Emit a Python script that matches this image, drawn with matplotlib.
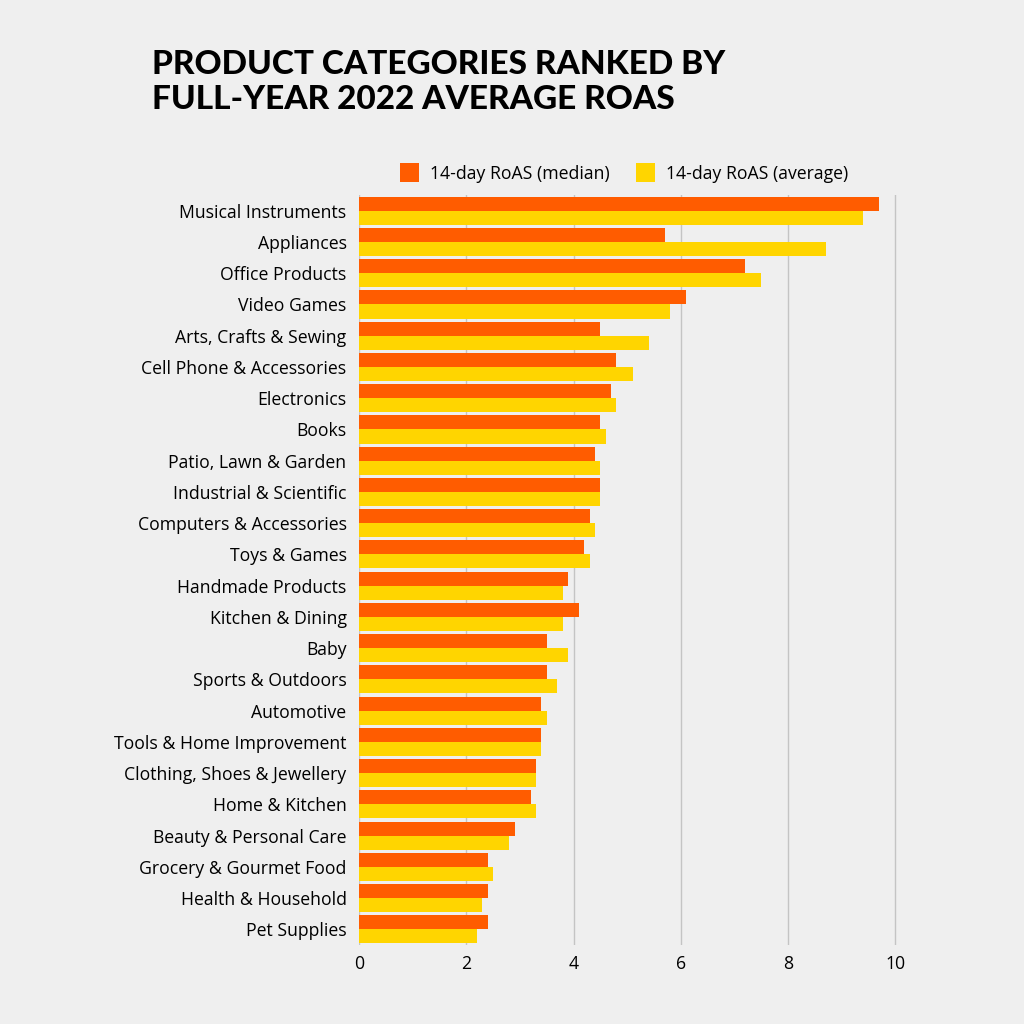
import numpy as np
import matplotlib.pyplot as plt

categories = [
    "Musical Instruments", "Appliances", "Office Products", "Video Games",
    "Arts, Crafts & Sewing", "Cell Phone & Accessories", "Electronics", "Books",
    "Patio, Lawn & Garden", "Industrial & Scientific", "Computers & Accessories",
    "Toys & Games", "Handmade Products", "Kitchen & Dining", "Baby",
    "Sports & Outdoors", "Automotive", "Tools & Home Improvement",
    "Clothing, Shoes & Jewellery", "Home & Kitchen", "Beauty & Personal Care",
    "Grocery & Gourmet Food", "Health & Household", "Pet Supplies",
]
roas_median = [9.7, 5.7, 7.2, 6.1, 4.5, 4.8, 4.7, 4.5, 4.4, 4.5, 4.3, 4.2,
               3.9, 4.1, 3.5, 3.5, 3.4, 3.4, 3.3, 3.2, 2.9, 2.4, 2.4, 2.4]
roas_average = [9.4, 8.7, 7.5, 5.8, 5.4, 5.1, 4.8, 4.6, 4.5, 4.5, 4.4, 4.3,
                3.8, 3.8, 3.9, 3.7, 3.5, 3.4, 3.3, 3.3, 2.8, 2.5, 2.3, 2.2]
xticks = [0, 2, 4, 6, 8, 10]

bg = "#efefef"
orange = "#ff5c00"
yellow = "#ffd500"

fig = plt.figure(figsize=(10.24, 10.24), dpi=100, facecolor=bg)
ax = fig.add_axes([0.3506, 0.0771, 0.529, 0.7324], facecolor=bg)

y = np.arange(len(categories))
h = 0.45
ax.barh(y - h / 2, roas_median, height=h, color=orange, label="14-day RoAS (median)", zorder=3)
ax.barh(y + h / 2, roas_average, height=h, color=yellow, label="14-day RoAS (average)", zorder=3)

ax.set_ylim(len(categories) - 0.5, -0.5)
ax.set_xlim(0, 10.1)
ax.set_yticks(y)
ax.set_yticklabels(categories, fontsize=12.7, family="Open Sans")
ax.set_xticks(xticks)
ax.set_xticklabels([str(t) for t in xticks], fontsize=12.7, family="Open Sans")
ax.tick_params(axis="x", length=0, pad=7)
ax.tick_params(axis="y", length=0, pad=9)
ax.grid(axis="x", color="#c4c4c4", linewidth=1, zorder=0)
for s in ax.spines.values():
    s.set_visible(False)

leg = ax.legend(loc="lower right", bbox_to_anchor=(0.925, 1.0), ncol=2, frameon=False,
                prop={"family": "Open Sans", "size": 12.7}, handlelength=1.1,
                handleheight=1.3, handletextpad=0.6, columnspacing=1.5, borderaxespad=0.3)

# two-line heavy title, left aligned above the labels
fig.text(0.148, 0.937, "PRODUCT CATEGORIES RANKED BY", fontsize=24, fontweight="black",
         family="Lato", va="center", ha="left")
fig.text(0.148, 0.903, "FULL-YEAR 2022 AVERAGE ROAS", fontsize=24, fontweight="black",
         family="Lato", va="center", ha="left")

fig.savefig("out.png", dpi=100, facecolor=bg)
